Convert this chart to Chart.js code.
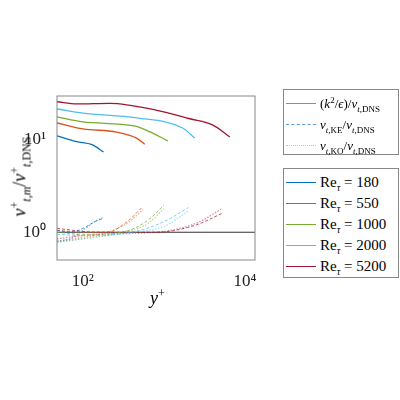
<!DOCTYPE html>
<html><head><meta charset="utf-8">
<script src="https://cdn.jsdelivr.net/npm/chart.js@4"></script>
<style>
body{margin:0;background:#fff;font-family:"Liberation Serif",serif;}
#wrap{position:relative;width:400px;height:400px;}
.lg{position:absolute;left:283px;width:116px;border:1px solid #888;background:#fff;font-size:13px;box-sizing:border-box;padding:3px 2px;}
.row{display:flex;align-items:center;height:21px;white-space:nowrap;}
.sw{flex:0 0 30px;width:30px;margin-right:4px;border-top:1.5px solid;}
.lbl{position:absolute;font-size:17px;}
sub,sup{line-height:0;}
</style></head><body>
<div id="wrap"><canvas id="c" width="400" height="400"></canvas>
<div class="lbl" style="left:150px;top:288px;font-size:18px;"><i>y</i><sup style="font-size:12px">+</sup></div>
<div class="lbl" style="left:-55px;top:166px;transform:rotate(-90deg);width:150px;text-align:center;font-size:18px;"><i>ν</i><sup style="font-size:12px">+</sup><sub style="font-size:12px"><i>t,m</i></sub>/<i>ν</i><sup style="font-size:12px">+</sup><sub style="font-size:12px"><i>t</i>,DNS</sub></div>
<div class="lg" style="top:89px;height:66px;">
 <div class="row"><span class="sw" style="border-color:#5b9bd5"></span><span>(<i>k</i><sup style="font-size:9px">2</sup>/<i>ϵ</i>)/<i>ν</i><sub style="font-size:9px"><i>t</i>,DNS</sub></span></div>
 <div class="row"><span class="sw" style="border-top:1px dashed #5b9bd5"></span><span><i>ν</i><sub style="font-size:9px"><i>t</i>,KE</sub>/<i>ν</i><sub style="font-size:9px"><i>t</i>,DNS</sub></span></div>
 <div class="row"><span class="sw" style="border-top:1.5px dotted #a8c8ea"></span><span><i>ν</i><sub style="font-size:9px"><i>t</i>,KO</sub>/<i>ν</i><sub style="font-size:9px"><i>t</i>,DNS</sub></span></div>
</div>
<div class="lg" style="top:168px;height:110px;font-size:15px;" id="lg2"></div>
</div>
<script>
const reLabels=["180","550","1000","2000","5200"];
const colors=["#0072BD","#D95319","#77AC30","#4DBEEE","#A2142F"];
const kX=[[48,84,130,180],[48,100,260,460,580],[48,100,430,640,1120],[48,100,460,1700,2400],[48,84,215,820,2090,4030,6500]];
const kY=[[11.1,9.6,8.9,7.4],[15.3,13.2,12.2,10.5,9.0],[17.8,15.7,14.2,12.5,9.8],[21.7,19.6,17.4,13.5,10.5],[26,24.6,25,21,17,14.5,10.8]];
const keX=[[48,70,100,140,180],[48,100,200,350,550],[48,100,300,600,1000],[48,100,400,1000,2000],[48,150,800,2500,5200]];
const keY=[[1.05,1.0,1.1,1.3,1.42],[1.05,1.0,1.0,1.3,1.9],[1.0,0.95,1.0,1.3,1.95],[0.95,0.92,1.0,1.3,1.85],[1.1,1.0,1.0,1.2,1.6]];
const koY=[[0.8,0.85,1.05,1.3,1.45],[0.8,0.88,1.0,1.25,1.75],[0.78,0.85,1.0,1.2,1.8],[0.78,0.85,1.0,1.15,1.7],[0.85,0.95,1.0,1.25,1.8]];
const refX=[48,13300], refY=[1,1];
function pts(xs,ys){return xs.map((x,i)=>({x,y:ys[i]}));}
const ds=[];
for(let i=0;i<5;i++){
 ds.push({data:pts(kX[i],kY[i]),borderColor:colors[i],borderWidth:1.3});
 ds.push({data:pts(keX[i],keY[i]),borderColor:colors[i]+"bb",borderWidth:1,borderDash:[3,2]});
 ds.push({data:pts(keX[i],koY[i]),borderColor:colors[i]+"77",borderWidth:1.3,borderDash:[1.5,1.5]});
}
ds.push({data:pts(refX,refY),borderColor:"#333",borderWidth:1,tension:0});
document.getElementById('lg2').innerHTML=reLabels.map((r,i)=>`<div class="row"><span class="sw" style="border-color:${colors[i]}"></span><span>Re<sub style="font-size:10px"><i>τ</i></sub> = ${r}</span></div>`).join('');
const sup={2:"²",4:"⁴"};
const box={id:'box',afterDraw(c){const a=c.chartArea,x=c.ctx;x.save();x.strokeStyle="#888";x.lineWidth=1;x.strokeRect(a.left,a.top,a.right-a.left,a.bottom-a.top);x.restore();}};
new Chart(document.getElementById('c'),{type:'line',data:{datasets:ds},plugins:[box],
options:{responsive:false,animation:false,layout:{padding:{left:0,top:96,right:145,bottom:0}},
 elements:{point:{radius:0},line:{tension:0.4,cubicInterpolationMode:'monotone'}},
 plugins:{legend:{display:false},tooltip:{enabled:false}},
 scales:{
  x:{type:'logarithmic',min:48,max:13300,grid:{display:false},border:{display:false},
   afterFit(s){s.height=140;},
   ticks:{color:"#222",font:{family:"Liberation Serif",size:17},maxRotation:0,autoSkip:false,
    callback:(v)=>v===100?"10²":v===10000?"10⁴":""},
   afterBuildTicks(s){s.ticks=[{value:100},{value:10000}];}},
  y:{type:'logarithmic',min:0.5,max:30,grid:{display:false},border:{display:false},
   afterFit(s){s.width=57;},
   ticks:{color:"#222",font:{family:"Liberation Serif",size:17},autoSkip:false,
    callback:(v)=>v===1?"10⁰":v===10?"10¹":""},
   afterBuildTicks(s){s.ticks=[{value:1},{value:10}];}}
 }}});
</script></body></html>
